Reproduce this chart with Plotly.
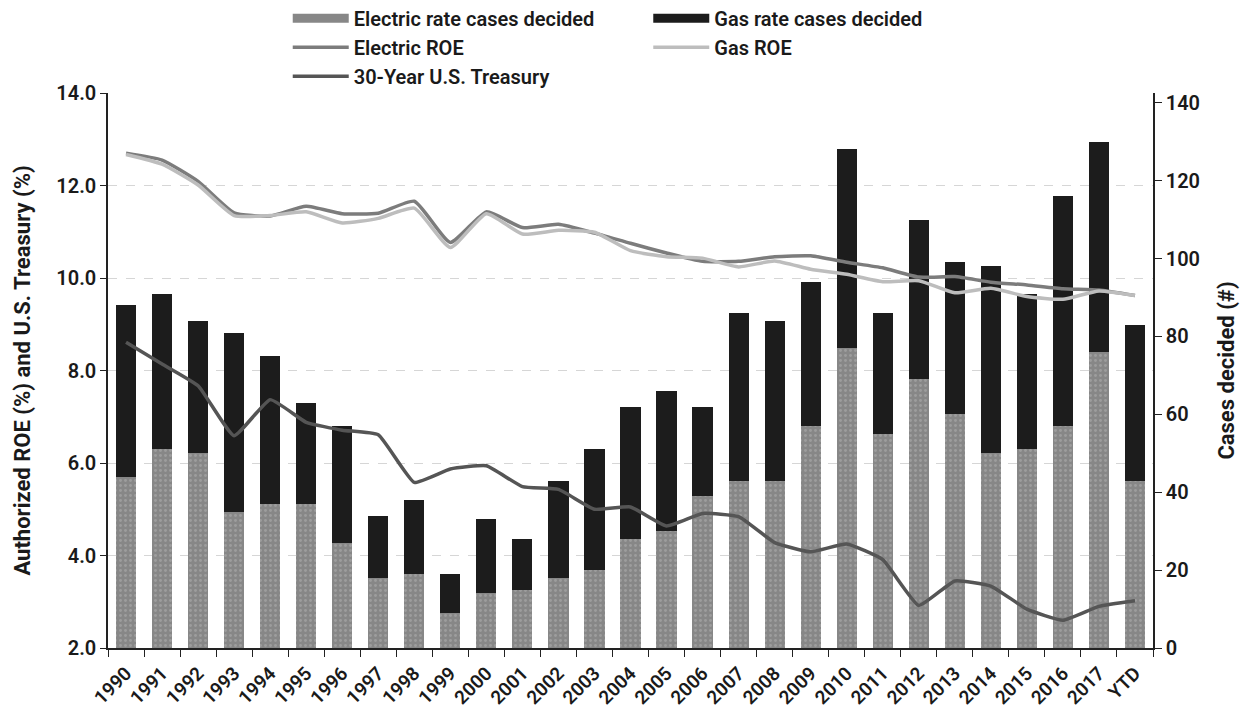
import plotly.graph_objects as go

# Categories
years = [str(y) for y in range(1990, 2018)] + ["YTD"]

# Rate cases decided (count)
electric_cases = [44, 51, 50, 35, 37, 37, 27, 18, 19, 9, 14, 15, 18, 20, 28,
                  30, 39, 43, 43, 57, 77, 55, 69, 60, 50, 51, 57, 76, 43]
gas_cases = [44, 40, 34, 46, 38, 26, 30, 16, 19, 10, 19, 13, 25, 31, 34,
             36, 23, 43, 41, 37, 51, 31, 41, 39, 48, 40, 59, 54, 40]

# Authorized ROE and 30-year Treasury yield (%)
electric_roe = [12.70, 12.55, 12.09, 11.41, 11.34, 11.55, 11.39, 11.40, 11.66,
                10.77, 11.43, 11.09, 11.16, 10.97, 10.75, 10.54, 10.36, 10.36,
                10.46, 10.48, 10.34, 10.22, 10.02, 10.03, 9.91, 9.85, 9.77,
                9.74, 9.62]
gas_roe = [12.67, 12.46, 12.01, 11.35, 11.35, 11.43, 11.19, 11.29, 11.51,
           10.66, 11.39, 10.95, 11.03, 10.99, 10.59, 10.46, 10.43, 10.24,
           10.37, 10.19, 10.08, 9.92, 9.94, 9.68, 9.78, 9.60, 9.54, 9.72,
           9.62]
treasury = [8.61, 8.14, 7.67, 6.59, 7.37, 6.88, 6.71, 6.61, 5.58, 5.87, 5.94,
            5.49, 5.43, 5.00, 5.05, 4.64, 4.91, 4.84, 4.28, 4.08, 4.25, 3.91,
            2.92, 3.45, 3.34, 2.84, 2.60, 2.90, 3.02]

FONT = "Roboto"
INK = "#1a1a1a"
ELEC_BAR = "#878787"
GAS_BAR = "#1c1c1c"

fig = go.Figure()

# Stacked bars on the cases axis (drawn first so the lines sit on top)
fig.add_trace(go.Bar(
    x=years, y=electric_cases, name="Electric rate cases decided",
    marker=dict(color=ELEC_BAR, line=dict(width=0),
                pattern=dict(shape=".", fgcolor="#b4b4b4", bgcolor=ELEC_BAR,
                             size=5, solidity=0.25)),
    width=0.56, showlegend=False, yaxis="y"))
fig.add_trace(go.Bar(
    x=years, y=gas_cases, name="Gas rate cases decided",
    marker=dict(color=GAS_BAR, line=dict(width=0)), width=0.56,
    showlegend=False, yaxis="y"))

# Wide swatches for the bar series in the legend
fig.add_trace(go.Scatter(
    x=[None], y=[None], mode="lines", name="Electric rate cases decided",
    line=dict(color=ELEC_BAR, width=9), legend="legend", yaxis="y2"))
fig.add_trace(go.Scatter(
    x=[None], y=[None], mode="lines", name="Gas rate cases decided",
    line=dict(color=GAS_BAR, width=9), legend="legend2", yaxis="y2"))

fig.add_trace(go.Scatter(
    x=years, y=electric_roe, name="Electric ROE", mode="lines",
    line=dict(color="#7c7c7c", width=3.5, shape="spline", smoothing=0.5),
    legend="legend", yaxis="y2"))
fig.add_trace(go.Scatter(
    x=years, y=gas_roe, name="Gas ROE", mode="lines",
    line=dict(color="#bdbdbd", width=3.5, shape="spline", smoothing=0.5),
    legend="legend2", yaxis="y2"))
fig.add_trace(go.Scatter(
    x=years, y=treasury, name="30-Year U.S. Treasury", mode="lines",
    line=dict(color="#555555", width=3.5, shape="spline", smoothing=0.4),
    legend="legend", yaxis="y2"))

tick_font = dict(family=FONT, size=20, color=INK, weight=600)
legend_font = dict(family=FONT, size=20, color=INK, weight=600)
title_font = dict(family=FONT, size=22, color=INK, weight=700)

fig.update_layout(
    width=1241, height=708,
    margin=dict(l=108, r=88, t=93, b=60, autoexpand=False),
    paper_bgcolor="white", plot_bgcolor="white",
    barmode="stack",
    font=dict(family=FONT, color=INK),
    xaxis=dict(
        type="category", range=[-0.5, 28.5], automargin=False,
        tickangle=-45, tickfont=dict(family=FONT, size=19, color=INK, weight=600),
        ticklabelstandoff=5,
        showline=True, linecolor="#222", linewidth=1.5,
        ticks="outside", ticklen=7, tickcolor="#222", tickson="boundaries",
        showgrid=False),
    yaxis=dict(
        side="right", range=[0, 142.5], tickvals=list(range(0, 141, 20)),
        showline=True, linecolor="#222", linewidth=1.5, automargin=False,
        ticks="outside", ticklen=7, tickcolor="#222",
        tickfont=tick_font, showgrid=False, zeroline=False,
        title=dict(text="Cases decided (#)", standoff=20, font=title_font)),
    yaxis2=dict(
        side="left", overlaying="y", range=[2, 14], dtick=2, tickformat=".1f",
        showline=True, linecolor="#222", linewidth=1.5, automargin=False,
        ticks="outside", ticklen=6, tickcolor="#222",
        tickfont=tick_font, showgrid=True, gridcolor="#d6d6d6", griddash="dash",
        gridwidth=1, zeroline=False,
        title=dict(text="Authorized ROE (%) and U.S. Treasury (%)", standoff=20,
                   font=title_font)),
    legend=dict(x=0.172, y=1.17, xanchor="left", yanchor="top",
                orientation="v", font=legend_font, itemwidth=56,
                bgcolor="rgba(0,0,0,0)", traceorder="normal", tracegroupgap=0),
    legend2=dict(x=0.517, y=1.17, xanchor="left", yanchor="top",
                 orientation="v", font=legend_font, itemwidth=56,
                 bgcolor="rgba(0,0,0,0)", traceorder="normal", tracegroupgap=0),
)

fig.write_html("out.html")
